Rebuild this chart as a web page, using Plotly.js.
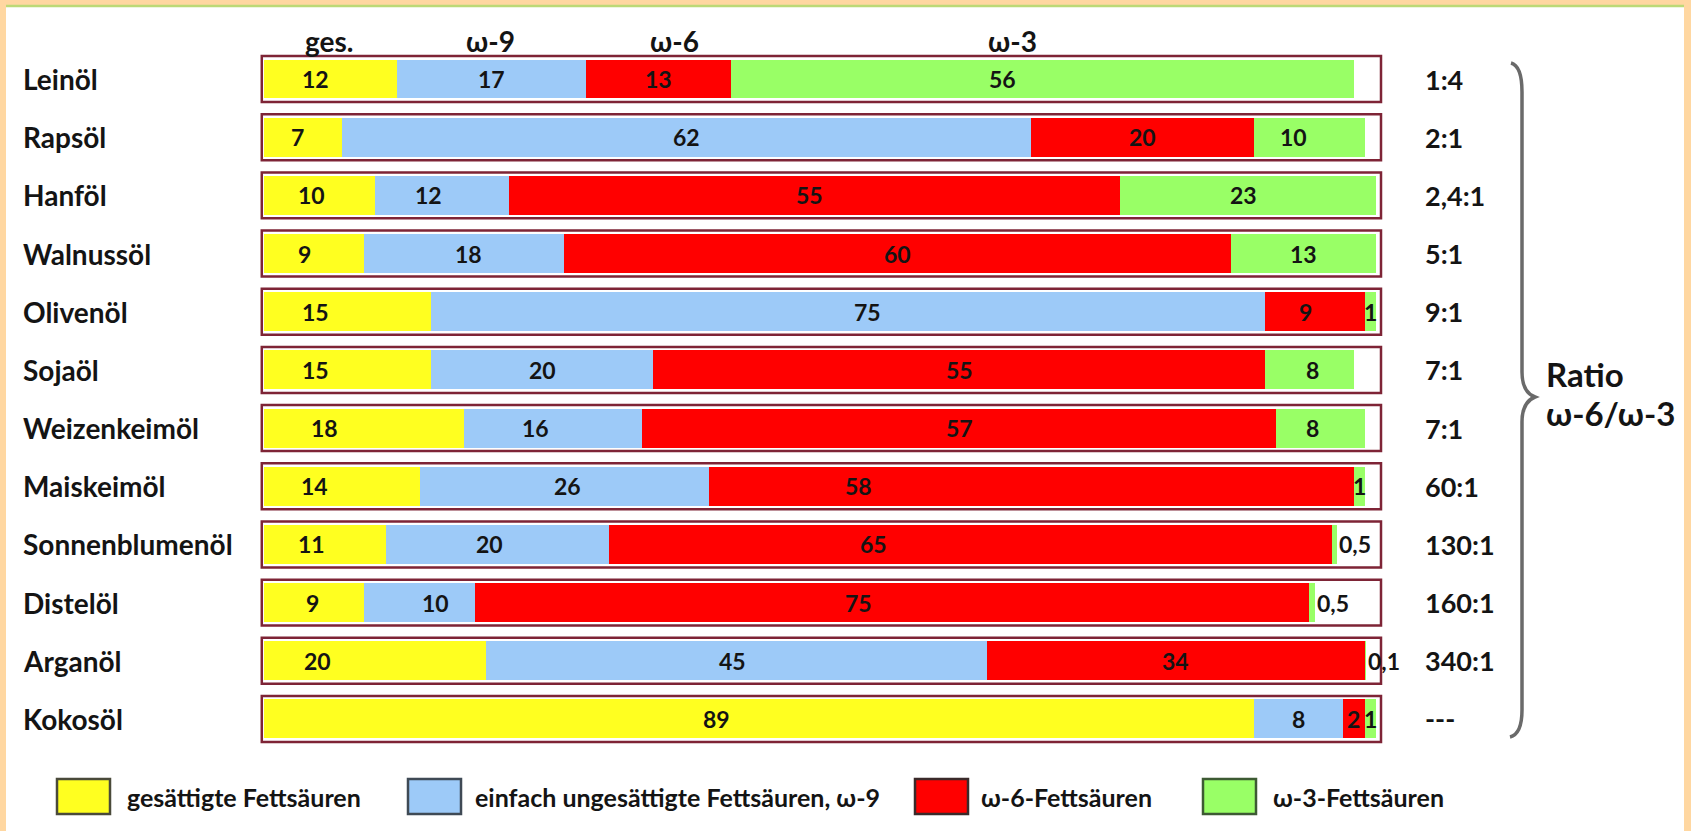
<!DOCTYPE html>
<html>
<head>
<meta charset="utf-8">
<script src="https://cdn.plot.ly/plotly-3.0.1.min.js"></script>
<style>
  html, body { margin: 0; padding: 0; background: #FFD7A1; }
  #chart { width: 1691px; height: 831px; }
</style>
</head>
<body>
<div id="chart"></div>
<script>
// Fatty acid composition of common cooking oils (percent)
const oils = ['Leinöl', 'Rapsöl', 'Hanföl', 'Walnussöl', 'Olivenöl', 'Sojaöl',
              'Weizenkeimöl', 'Maiskeimöl', 'Sonnenblumenöl', 'Distelöl', 'Arganöl', 'Kokosöl'];
const saturated = [12, 7, 10, 9, 15, 15, 18, 14, 11, 9, 20, 89];
const omega9    = [17, 62, 12, 18, 75, 20, 16, 26, 20, 10, 45, 8];
const omega6    = [13, 20, 55, 60, 9, 55, 57, 58, 65, 75, 34, 2];
const omega3    = [56, 10, 23, 13, 1, 8, 8, 1, 0.5, 0.5, 0.1, 1];
const ratios    = ['1:4', '2:1', '2,4:1', '5:1', '9:1', '7:1', '7:1', '60:1', '130:1', '160:1', '340:1', '---'];
const seriesNames = ['gesättigte Fettsäuren', 'einfach ungesättigte Fettsäuren, ω-9',
                     'ω-6-Fettsäuren', 'ω-3-Fettsäuren'];
const columnHeads = ['ges.', 'ω-9', 'ω-6', 'ω-3'];
const ratioTitle = ['Ratio', 'ω-6/ω-3'];

// ---- geometry & styling ----
const W = 1691, H = 831;
const X0PX = 264, PX_PER_UNIT = 11.12;      // where 0 % sits, and pixels per percent
const ROW0PX = 79, ROW_STEP = 58.18;         // first row centre, row pitch
const series = [saturated, omega9, omega6, omega3];
const colors = ['#FFFF20', '#9DCAF8', '#FF0000', '#99FF66'];
const swatchBorder = ['#4a4a3a', '#3f4a55', '#3a2a2a', '#3d5a33'];
const headPos = [5.85, 20.4, 36.9, 67.3];
const legendSwatchX = [57, 408, 915, 1203];
const legendTextX = [125, 473, 979, 1271];
const ratioTitleY = [374, 413];
// hand-placed label positions along the bar (percent axis); null = centred in its segment
const labelPlacement = [
  [4.6, null, null, 66.4],
  [3.0, null, null, 92.6],
  [4.3, 14.8, 49.1, 88.1],
  [3.6, 18.4, null, null],
  [4.6, 54.3, 93.7, null],
  [4.6, null, null, 94.3],
  [5.4, 24.4, null, 94.3],
  [4.5, 27.3, 53.5, null],
  [4.3, 20.3, 54.8, null],
  [4.4, 15.4, 53.5, null],
  [4.8, 42.1, null, null],
  [40.7, null, null, null]
];
const FONT = 'Lato, "Open Sans", sans-serif';
const INK = '#141414';

const px = x => x / W;
const py = y => 1 - y / H;
const fmt = v => String(v).replace('.', ',');

const traces = series.map((vals, k) => ({
  type: 'bar',
  orientation: 'h',
  y: oils,
  x: vals,
  name: seriesNames[k],
  width: 0.67,
  marker: { color: colors[k], line: { width: 0 } },
  textposition: 'none',
  showlegend: false,
  hoverinfo: 'name+x'
}));

const shapes = [];
const annotations = [];

// white panel and its thin top line
shapes.push({ type: 'rect', xref: 'paper', yref: 'paper', x0: px(6), x1: px(1684), y0: 0, y1: py(6),
              fillcolor: '#FFFFFF', line: { width: 0 }, layer: 'below' });
shapes.push({ type: 'line', xref: 'paper', yref: 'paper', x0: px(6), x1: px(1684), y0: py(6), y1: py(6),
              line: { color: '#BCD977', width: 2.5 }, layer: 'below' });

// framed box behind each oil's bar
oils.forEach((oil, i) => {
  shapes.push({ type: 'rect', xref: 'x', yref: 'y', x0: -0.2, x1: 100.45, y0: i - 0.395, y1: i + 0.395,
                fillcolor: '#FFFFFF', line: { color: '#7E2436', width: 2.5 }, layer: 'below' });
});

// segment value labels
oils.forEach((oil, i) => {
  let cum = 0;
  series.forEach((vals, k) => {
    const v = vals[i];
    const small = v < 1;
    const placed = labelPlacement[i][k];
    let x = cum + v / 2, anchor = 'center';
    if (placed !== null) x = placed;
    else if (small) { x = cum + v; anchor = 'left'; }
    annotations.push({
      xref: 'x', yref: 'y', x: x, y: oil,
      xanchor: anchor, yanchor: 'middle',
      text: fmt(v), showarrow: false,
      font: { family: FONT, size: 23, color: INK, weight: 700 }
    });
    cum += v;
  });
});

// oil names on the left, ratios on the right
oils.forEach((oil, i) => {
  annotations.push({
    xref: 'paper', yref: 'y', x: px(21), y: oil, xanchor: 'left', yanchor: 'middle',
    text: oil, showarrow: false, font: { family: FONT, size: 28, color: INK, weight: 700 }
  });
  annotations.push({
    xref: 'paper', yref: 'y', x: px(1423), y: oil, xanchor: 'left', yanchor: 'middle',
    text: ratios[i], showarrow: false, font: { family: FONT, size: 27, color: INK, weight: 700 }
  });
});

// column headings above the first bar
columnHeads.forEach((h, k) => {
  annotations.push({
    xref: 'x', yref: 'paper', x: headPos[k], y: py(41), xanchor: 'center', yanchor: 'middle',
    text: h, showarrow: false, font: { family: FONT, size: 28, color: INK, weight: 700 }
  });
});

// curly brace grouping the ratios
const P = (x, y) => `${px(x)},${py(y)}`;
shapes.push({
  type: 'path', xref: 'paper', yref: 'paper',
  path: `M${P(1511, 63)} Q${P(1522, 66)} ${P(1522, 92)} L${P(1522, 372)} Q${P(1522, 392)} ${P(1535, 397)} ` +
        `Q${P(1522, 402)} ${P(1522, 422)} L${P(1522, 710)} Q${P(1522, 734)} ${P(1510, 737)}`,
  line: { color: '#6a6a6a', width: 3.5 }, fillcolor: 'rgba(0,0,0,0)'
});
ratioTitle.forEach((t, k) => {
  annotations.push({
    xref: 'paper', yref: 'paper', x: px(1544), y: py(ratioTitleY[k]), xanchor: 'left', yanchor: 'middle',
    text: t, showarrow: false, font: { family: FONT, size: 33, color: INK, weight: 700 }
  });
});

// legend row at the bottom
seriesNames.forEach((name, k) => {
  shapes.push({ type: 'rect', xref: 'paper', yref: 'paper',
                x0: px(legendSwatchX[k]), x1: px(legendSwatchX[k] + 53), y0: py(814), y1: py(779),
                fillcolor: colors[k], line: { color: swatchBorder[k], width: 2.5 } });
  annotations.push({
    xref: 'paper', yref: 'paper', x: px(legendTextX[k]), y: py(797), xanchor: 'left', yanchor: 'middle',
    text: name, showarrow: false, font: { family: FONT, size: 25, color: INK, weight: 700 }
  });
});

const layout = {
  width: W, height: H,
  margin: { l: 0, r: 0, t: 0, b: 0, pad: 0 },
  paper_bgcolor: '#FFD7A1',
  plot_bgcolor: 'rgba(0,0,0,0)',
  barmode: 'stack',
  showlegend: false,
  xaxis: { range: [-X0PX / PX_PER_UNIT, (W - X0PX) / PX_PER_UNIT], visible: false, fixedrange: true },
  yaxis: { type: 'category', categoryorder: 'array', categoryarray: oils,
           range: [11 + (H - (ROW0PX + 11 * ROW_STEP)) / ROW_STEP, -ROW0PX / ROW_STEP],
           visible: false, fixedrange: true },
  shapes: shapes,
  annotations: annotations,
  font: { family: FONT, color: INK }
};

Plotly.newPlot('chart', traces, layout, { displayModeBar: false, staticPlot: true });
</script>
</body>
</html>
